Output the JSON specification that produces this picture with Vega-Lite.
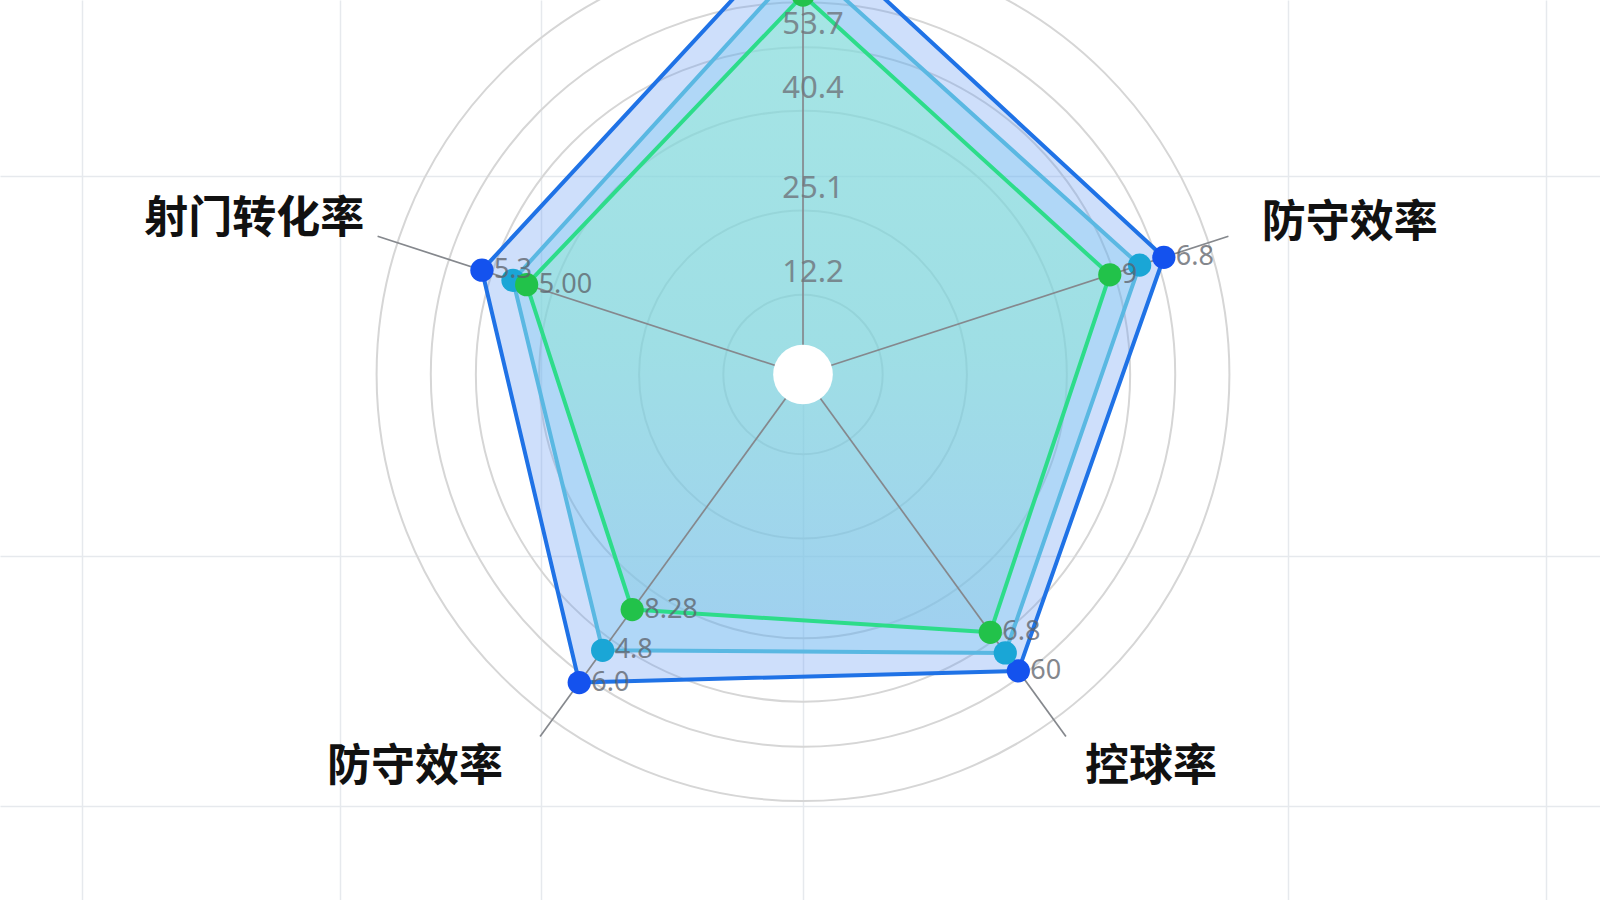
{
  "$schema": "https://vega.github.io/schema/vega-lite/v6.json",
  "width": 1600,
  "height": 900,
  "padding": 0,
  "autosize": "none",
  "background": "#ffffff",
  "config": {"view": {"stroke": null}},
  "datasets": {
    "dims": [
      {"dim": "防守效率", "idx": 1, "side": "right"},
      {"dim": "控球率", "idx": 2, "side": "right"},
      {"dim": "防守效率", "idx": 3, "side": "lowerleft"},
      {"dim": "射门转化率", "idx": 4, "side": "upperleft"}
    ],
    "spokes": [{"idx": 0}, {"idx": 1}, {"idx": 2}, {"idx": 3}, {"idx": 4}],
    "rings": [{"r": 12.2}, {"r": 25.1}, {"r": 40.4}, {"r": 50.1}, {"r": 57.0}, {"r": 65.3}],
    "ticks": [{"v": 12.2, "t": "12.2"}, {"v": 25.1, "t": "25.1"}, {"v": 40.4, "t": "40.4"}, {"v": 50.1, "t": "53.7"}],
    "radar": [
      {"series": "A", "idx": 0, "value": 69.1, "label": ""},
      {"series": "A", "idx": 1, "value": 58.1, "label": "6.8"},
      {"series": "A", "idx": 2, "value": 56.1, "label": "60"},
      {"series": "A", "idx": 3, "value": 58.3, "label": "6.0"},
      {"series": "A", "idx": 4, "value": 51.7, "label": "5.3"},
      {"series": "B", "idx": 0, "value": 63.3, "label": ""},
      {"series": "B", "idx": 1, "value": 54.2, "label": ""},
      {"series": "B", "idx": 2, "value": 52.7, "label": ""},
      {"series": "B", "idx": 3, "value": 52.2, "label": "4.8"},
      {"series": "B", "idx": 4, "value": 46.7, "label": ""},
      {"series": "C", "idx": 0, "value": 58.1, "label": ""},
      {"series": "C", "idx": 1, "value": 49.4, "label": "9"},
      {"series": "C", "idx": 2, "value": 48.8, "label": "6.8"},
      {"series": "C", "idx": 3, "value": 44.5, "label": "8.28"},
      {"series": "C", "idx": 4, "value": 44.5, "label": "5.00"}
    ]
  },
  "layer": [
    {
      "data": {"name": "rings"},
      "mark": {"type": "point", "shape": "circle", "filled": false, "stroke": "#d6d6d6", "strokeWidth": 2, "opacity": 1},
      "encoding": {
        "x": {"datum": 0, "type": "quantitative", "scale": {"domain": [-122.97, 122.05], "nice": false, "zero": false}, "axis": {"values": [-110.41, -70.9, -40.12, 0, 74.27, 113.78], "grid": true, "labels": false, "ticks": false, "domain": false, "title": null, "gridColor": "#e6e9ed", "gridWidth": 1.5}},
        "y": {"datum": 0, "type": "quantitative", "scale": {"domain": [-80.47, 57.35], "nice": false, "zero": false}, "axis": {"values": [30.47, -27.8, -66.11], "grid": true, "labels": false, "ticks": false, "domain": false, "title": null, "gridColor": "#e6e9ed", "gridWidth": 1.5}},
        "size": {"field": "r", "type": "quantitative", "scale": {"type": "pow", "exponent": 2, "domain": [0, 100], "range": [0, 1705636], "zero": true}, "legend": null}
      }
    },
    {
      "data": {"name": "radar"},
      "transform": [
        {"filter": "datum.series === 'A'"},
        {"calculate": "PI/2 - datum.idx*2*PI/5", "as": "ang"},
        {"calculate": "datum.value*cos(datum.ang)", "as": "x"},
        {"calculate": "datum.value*sin(datum.ang)", "as": "y"}
      ],
      "mark": {"type": "line", "interpolate": "linear-closed", "fill": "#6a9ff2", "fillOpacity": 0.33, "stroke": "#1f72e6", "strokeWidth": 4, "strokeJoin": "round"},
      "encoding": {
        "x": {"field": "x", "type": "quantitative", "scale": {"domain": [-122.97, 122.05], "nice": false, "zero": false}, "axis": {"values": [-110.41, -70.9, -40.12, 0, 74.27, 113.78], "grid": true, "labels": false, "ticks": false, "domain": false, "title": null, "gridColor": "#e6e9ed", "gridWidth": 1.5}},
        "y": {"field": "y", "type": "quantitative", "scale": {"domain": [-80.47, 57.35], "nice": false, "zero": false}, "axis": {"values": [30.47, -27.8, -66.11], "grid": true, "labels": false, "ticks": false, "domain": false, "title": null, "gridColor": "#e6e9ed", "gridWidth": 1.5}},
        "order": {"field": "idx", "type": "quantitative"}
      }
    },
    {
      "data": {"name": "radar"},
      "transform": [
        {"filter": "datum.series === 'B'"},
        {"calculate": "PI/2 - datum.idx*2*PI/5", "as": "ang"},
        {"calculate": "datum.value*cos(datum.ang)", "as": "x"},
        {"calculate": "datum.value*sin(datum.ang)", "as": "y"}
      ],
      "mark": {"type": "line", "interpolate": "linear-closed", "fill": "#5cc0ec", "fillOpacity": 0.26, "stroke": "#5ab8e2", "strokeWidth": 4, "strokeJoin": "round"},
      "encoding": {
        "x": {"field": "x", "type": "quantitative", "scale": {"domain": [-122.97, 122.05], "nice": false, "zero": false}, "axis": {"values": [-110.41, -70.9, -40.12, 0, 74.27, 113.78], "grid": true, "labels": false, "ticks": false, "domain": false, "title": null, "gridColor": "#e6e9ed", "gridWidth": 1.5}},
        "y": {"field": "y", "type": "quantitative", "scale": {"domain": [-80.47, 57.35], "nice": false, "zero": false}, "axis": {"values": [30.47, -27.8, -66.11], "grid": true, "labels": false, "ticks": false, "domain": false, "title": null, "gridColor": "#e6e9ed", "gridWidth": 1.5}},
        "order": {"field": "idx", "type": "quantitative"}
      }
    },
    {
      "data": {"name": "radar"},
      "transform": [
        {"filter": "datum.series === 'C'"},
        {"calculate": "PI/2 - datum.idx*2*PI/5", "as": "ang"},
        {"calculate": "datum.value*cos(datum.ang)", "as": "x"},
        {"calculate": "datum.value*sin(datum.ang)", "as": "y"}
      ],
      "mark": {"type": "line", "interpolate": "linear-closed", "fill": {"gradient": "linear", "x1": 0, "y1": 0, "x2": 0, "y2": 1, "stops": [{"offset": 0, "color": "#9af7cf"}, {"offset": 0.55, "color": "#8ae8cf"}, {"offset": 1, "color": "#8cc8e6"}]}, "fillOpacity": 0.45, "stroke": "#2ddc8a", "strokeWidth": 4, "strokeJoin": "round"},
      "encoding": {
        "x": {"field": "x", "type": "quantitative", "scale": {"domain": [-122.97, 122.05], "nice": false, "zero": false}, "axis": {"values": [-110.41, -70.9, -40.12, 0, 74.27, 113.78], "grid": true, "labels": false, "ticks": false, "domain": false, "title": null, "gridColor": "#e6e9ed", "gridWidth": 1.5}},
        "y": {"field": "y", "type": "quantitative", "scale": {"domain": [-80.47, 57.35], "nice": false, "zero": false}, "axis": {"values": [30.47, -27.8, -66.11], "grid": true, "labels": false, "ticks": false, "domain": false, "title": null, "gridColor": "#e6e9ed", "gridWidth": 1.5}},
        "order": {"field": "idx", "type": "quantitative"}
      }
    },
    {
      "data": {"name": "spokes"},
      "transform": [
        {"calculate": "PI/2 - datum.idx*2*PI/5", "as": "ang"},
        {"calculate": "68.5*cos(datum.ang)", "as": "ex"},
        {"calculate": "68.5*sin(datum.ang)", "as": "ey"},
        {"calculate": "0", "as": "cx"}
      ],
      "mark": {"type": "rule", "stroke": "#85888d", "strokeWidth": 1.7},
      "encoding": {
        "x": {"field": "cx", "type": "quantitative", "scale": {"domain": [-122.97, 122.05], "nice": false, "zero": false}, "axis": {"values": [-110.41, -70.9, -40.12, 0, 74.27, 113.78], "grid": true, "labels": false, "ticks": false, "domain": false, "title": null, "gridColor": "#e6e9ed", "gridWidth": 1.5}},
        "y": {"field": "cx", "type": "quantitative", "scale": {"domain": [-80.47, 57.35], "nice": false, "zero": false}, "axis": {"values": [30.47, -27.8, -66.11], "grid": true, "labels": false, "ticks": false, "domain": false, "title": null, "gridColor": "#e6e9ed", "gridWidth": 1.5}},
        "x2": {"field": "ex"},
        "y2": {"field": "ey"}
      }
    },
    {
      "data": {"name": "radar"},
      "transform": [
        {"calculate": "PI/2 - datum.idx*2*PI/5", "as": "ang"},
        {"calculate": "datum.value*cos(datum.ang)", "as": "x"},
        {"calculate": "datum.value*sin(datum.ang)", "as": "y"}
      ],
      "mark": {"type": "circle", "size": 540, "opacity": 1},
      "encoding": {
        "x": {"field": "x", "type": "quantitative", "scale": {"domain": [-122.97, 122.05], "nice": false, "zero": false}, "axis": {"values": [-110.41, -70.9, -40.12, 0, 74.27, 113.78], "grid": true, "labels": false, "ticks": false, "domain": false, "title": null, "gridColor": "#e6e9ed", "gridWidth": 1.5}},
        "y": {"field": "y", "type": "quantitative", "scale": {"domain": [-80.47, 57.35], "nice": false, "zero": false}, "axis": {"values": [30.47, -27.8, -66.11], "grid": true, "labels": false, "ticks": false, "domain": false, "title": null, "gridColor": "#e6e9ed", "gridWidth": 1.5}},
        "color": {"field": "series", "type": "nominal", "scale": {"domain": ["A", "B", "C"], "range": ["#1452ee", "#1aa6d6", "#22c24a"]}, "legend": null}
      }
    },
    {
      "data": {"name": "radar"},
      "transform": [
        {"calculate": "PI/2 - datum.idx*2*PI/5", "as": "ang"},
        {"calculate": "datum.value*cos(datum.ang)", "as": "x"},
        {"calculate": "datum.value*sin(datum.ang)", "as": "y"}
      ],
      "mark": {"type": "text", "align": "left", "baseline": "middle", "dx": 12, "font": "Noto Sans", "fontSize": 27, "fill": "#5b6068", "opacity": 0.75},
      "encoding": {
        "x": {"field": "x", "type": "quantitative", "scale": {"domain": [-122.97, 122.05], "nice": false, "zero": false}, "axis": {"values": [-110.41, -70.9, -40.12, 0, 74.27, 113.78], "grid": true, "labels": false, "ticks": false, "domain": false, "title": null, "gridColor": "#e6e9ed", "gridWidth": 1.5}},
        "y": {"field": "y", "type": "quantitative", "scale": {"domain": [-80.47, 57.35], "nice": false, "zero": false}, "axis": {"values": [30.47, -27.8, -66.11], "grid": true, "labels": false, "ticks": false, "domain": false, "title": null, "gridColor": "#e6e9ed", "gridWidth": 1.5}},
        "text": {"field": "label", "type": "nominal"}
      }
    },
    {
      "data": {"values": [{"c": 0}]},
      "mark": {"type": "circle", "size": 3560, "color": "#ffffff", "opacity": 1},
      "encoding": {
        "x": {"field": "c", "type": "quantitative", "scale": {"domain": [-122.97, 122.05], "nice": false, "zero": false}, "axis": {"values": [-110.41, -70.9, -40.12, 0, 74.27, 113.78], "grid": true, "labels": false, "ticks": false, "domain": false, "title": null, "gridColor": "#e6e9ed", "gridWidth": 1.5}},
        "y": {"field": "c", "type": "quantitative", "scale": {"domain": [-80.47, 57.35], "nice": false, "zero": false}, "axis": {"values": [30.47, -27.8, -66.11], "grid": true, "labels": false, "ticks": false, "domain": false, "title": null, "gridColor": "#e6e9ed", "gridWidth": 1.5}}
      }
    },
    {
      "data": {"name": "ticks"},
      "transform": [{"calculate": "0", "as": "cx"}],
      "mark": {"type": "text", "align": "center", "baseline": "bottom", "dx": 10, "dy": -6, "font": "Noto Sans", "fontSize": 31, "fill": "#6f747c", "opacity": 0.8},
      "encoding": {
        "x": {"field": "cx", "type": "quantitative", "scale": {"domain": [-122.97, 122.05], "nice": false, "zero": false}, "axis": {"values": [-110.41, -70.9, -40.12, 0, 74.27, 113.78], "grid": true, "labels": false, "ticks": false, "domain": false, "title": null, "gridColor": "#e6e9ed", "gridWidth": 1.5}},
        "y": {"field": "v", "type": "quantitative", "scale": {"domain": [-80.47, 57.35], "nice": false, "zero": false}, "axis": {"values": [30.47, -27.8, -66.11], "grid": true, "labels": false, "ticks": false, "domain": false, "title": null, "gridColor": "#e6e9ed", "gridWidth": 1.5}},
        "text": {"field": "t", "type": "nominal"}
      }
    },
    {
      "data": {"name": "dims"},
      "transform": [
        {"filter": "datum.side === 'right'"},
        {"calculate": "PI/2 - datum.idx*2*PI/5", "as": "ang"},
        {"calculate": "74.5*cos(datum.ang)", "as": "lx"},
        {"calculate": "74.5*sin(datum.ang)", "as": "ly"}
      ],
      "mark": {"type": "text", "align": "left", "baseline": "middle", "dx": -4, "font": "Noto Sans CJK SC", "fontSize": 44, "fontWeight": "bold", "fill": "#111111"},
      "encoding": {
        "x": {"field": "lx", "type": "quantitative", "scale": {"domain": [-122.97, 122.05], "nice": false, "zero": false}, "axis": {"values": [-110.41, -70.9, -40.12, 0, 74.27, 113.78], "grid": true, "labels": false, "ticks": false, "domain": false, "title": null, "gridColor": "#e6e9ed", "gridWidth": 1.5}},
        "y": {"field": "ly", "type": "quantitative", "scale": {"domain": [-80.47, 57.35], "nice": false, "zero": false}, "axis": {"values": [30.47, -27.8, -66.11], "grid": true, "labels": false, "ticks": false, "domain": false, "title": null, "gridColor": "#e6e9ed", "gridWidth": 1.5}},
        "text": {"field": "dim", "type": "nominal"}
      }
    },
    {
      "data": {"name": "dims"},
      "transform": [
        {"filter": "datum.side === 'upperleft'"},
        {"calculate": "PI/2 - datum.idx*2*PI/5", "as": "ang"},
        {"calculate": "74.5*cos(datum.ang)", "as": "lx"},
        {"calculate": "74.5*sin(datum.ang)", "as": "ly"}
      ],
      "mark": {"type": "text", "align": "right", "baseline": "middle", "dx": 24, "dy": -4, "font": "Noto Sans CJK SC", "fontSize": 44, "fontWeight": "bold", "fill": "#111111"},
      "encoding": {
        "x": {"field": "lx", "type": "quantitative", "scale": {"domain": [-122.97, 122.05], "nice": false, "zero": false}, "axis": {"values": [-110.41, -70.9, -40.12, 0, 74.27, 113.78], "grid": true, "labels": false, "ticks": false, "domain": false, "title": null, "gridColor": "#e6e9ed", "gridWidth": 1.5}},
        "y": {"field": "ly", "type": "quantitative", "scale": {"domain": [-80.47, 57.35], "nice": false, "zero": false}, "axis": {"values": [30.47, -27.8, -66.11], "grid": true, "labels": false, "ticks": false, "domain": false, "title": null, "gridColor": "#e6e9ed", "gridWidth": 1.5}},
        "text": {"field": "dim", "type": "nominal"}
      }
    },
    {
      "data": {"name": "dims"},
      "transform": [
        {"filter": "datum.side === 'lowerleft'"},
        {"calculate": "PI/2 - datum.idx*2*PI/5", "as": "ang"},
        {"calculate": "74.5*cos(datum.ang)", "as": "lx"},
        {"calculate": "74.5*sin(datum.ang)", "as": "ly"}
      ],
      "mark": {"type": "text", "align": "right", "baseline": "middle", "dx": -14, "font": "Noto Sans CJK SC", "fontSize": 44, "fontWeight": "bold", "fill": "#111111"},
      "encoding": {
        "x": {"field": "lx", "type": "quantitative", "scale": {"domain": [-122.97, 122.05], "nice": false, "zero": false}, "axis": {"values": [-110.41, -70.9, -40.12, 0, 74.27, 113.78], "grid": true, "labels": false, "ticks": false, "domain": false, "title": null, "gridColor": "#e6e9ed", "gridWidth": 1.5}},
        "y": {"field": "ly", "type": "quantitative", "scale": {"domain": [-80.47, 57.35], "nice": false, "zero": false}, "axis": {"values": [30.47, -27.8, -66.11], "grid": true, "labels": false, "ticks": false, "domain": false, "title": null, "gridColor": "#e6e9ed", "gridWidth": 1.5}},
        "text": {"field": "dim", "type": "nominal"}
      }
    }
  ]
}
